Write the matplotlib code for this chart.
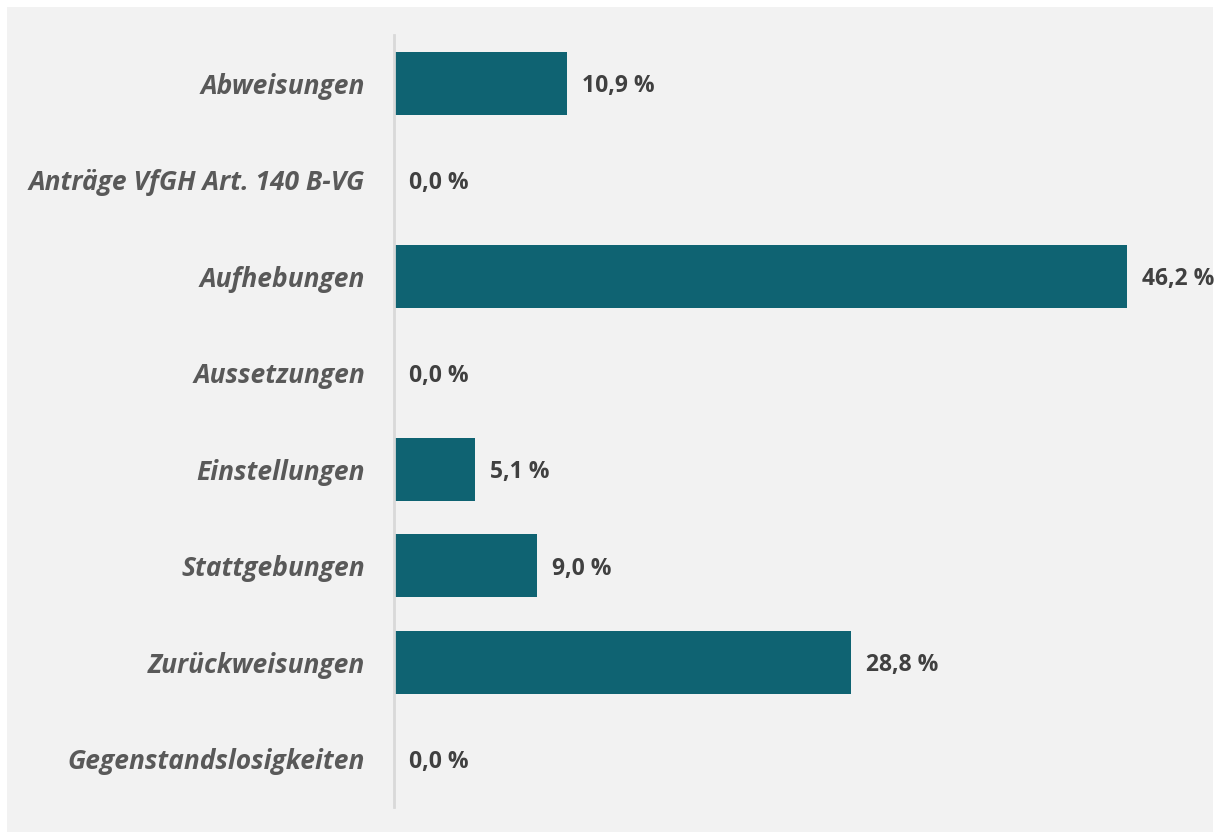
"""
Horizontal bar chart: share of decision types (percent), Excel-style layout.
"""
import matplotlib
matplotlib.use("Agg")
import matplotlib.pyplot as plt
from matplotlib.patches import Rectangle

categories = ["Abweisungen", "Anträge VfGH Art. 140 B-VG", "Aufhebungen",
              "Aussetzungen", "Einstellungen", "Stattgebungen",
              "Zurückweisungen", "Gegenstandslosigkeiten"]
shares = [10.9, 0.0, 46.2, 0.0, 5.1, 9.0, 28.8, 0.0]

BAR_COLOR = "#0f6372"
BG = "#f2f2f2"

fig = plt.figure(figsize=(12.15, 8.32), dpi=100)
fig.patch.set_facecolor("white")
# grey chart area with a thin white frame at top/left
fig.patches.append(Rectangle((7 / 1215, 0), (1213 - 7) / 1215, (832 - 7) / 832,
                             transform=fig.transFigure, facecolor=BG,
                             edgecolor="none", zorder=-10))

ax = fig.add_axes([394 / 1215, (832 - 807) / 832, (1180 - 394) / 1215, (807 - 35) / 832])
ax.set_facecolor("none")
ax.set_zorder(5)

y = range(len(categories))
ax.barh(y, shares, height=0.65, color=BAR_COLOR, zorder=2)
ax.set_ylim(len(categories) - 0.5, -0.5)
ax.set_xlim(0, (1180 - 394) / 15.87)

for yi, v in zip(y, shares):
    ax.annotate(f"{v:.1f} %".replace(".", ","), (v, yi), xytext=(15, -3),
                textcoords="offset pixels",
                va="center", ha="left", fontsize=16.5, fontweight="bold",
                color="#404040", family="Open Sans")

ax.set_yticks(list(y))
ax.set_yticklabels(categories, fontsize=19, fontweight="bold", style="italic",
                   color="#595959", family="Open Sans")
ax.tick_params(axis="y", length=0, pad=21)
ax.set_xticks([])
for side in ["top", "right", "bottom"]:
    ax.spines[side].set_visible(False)
ax.spines["left"].set_color("#d9d9d9")
ax.spines["left"].set_linewidth(2)

fig.savefig("out.png", dpi=100, facecolor=fig.get_facecolor())
